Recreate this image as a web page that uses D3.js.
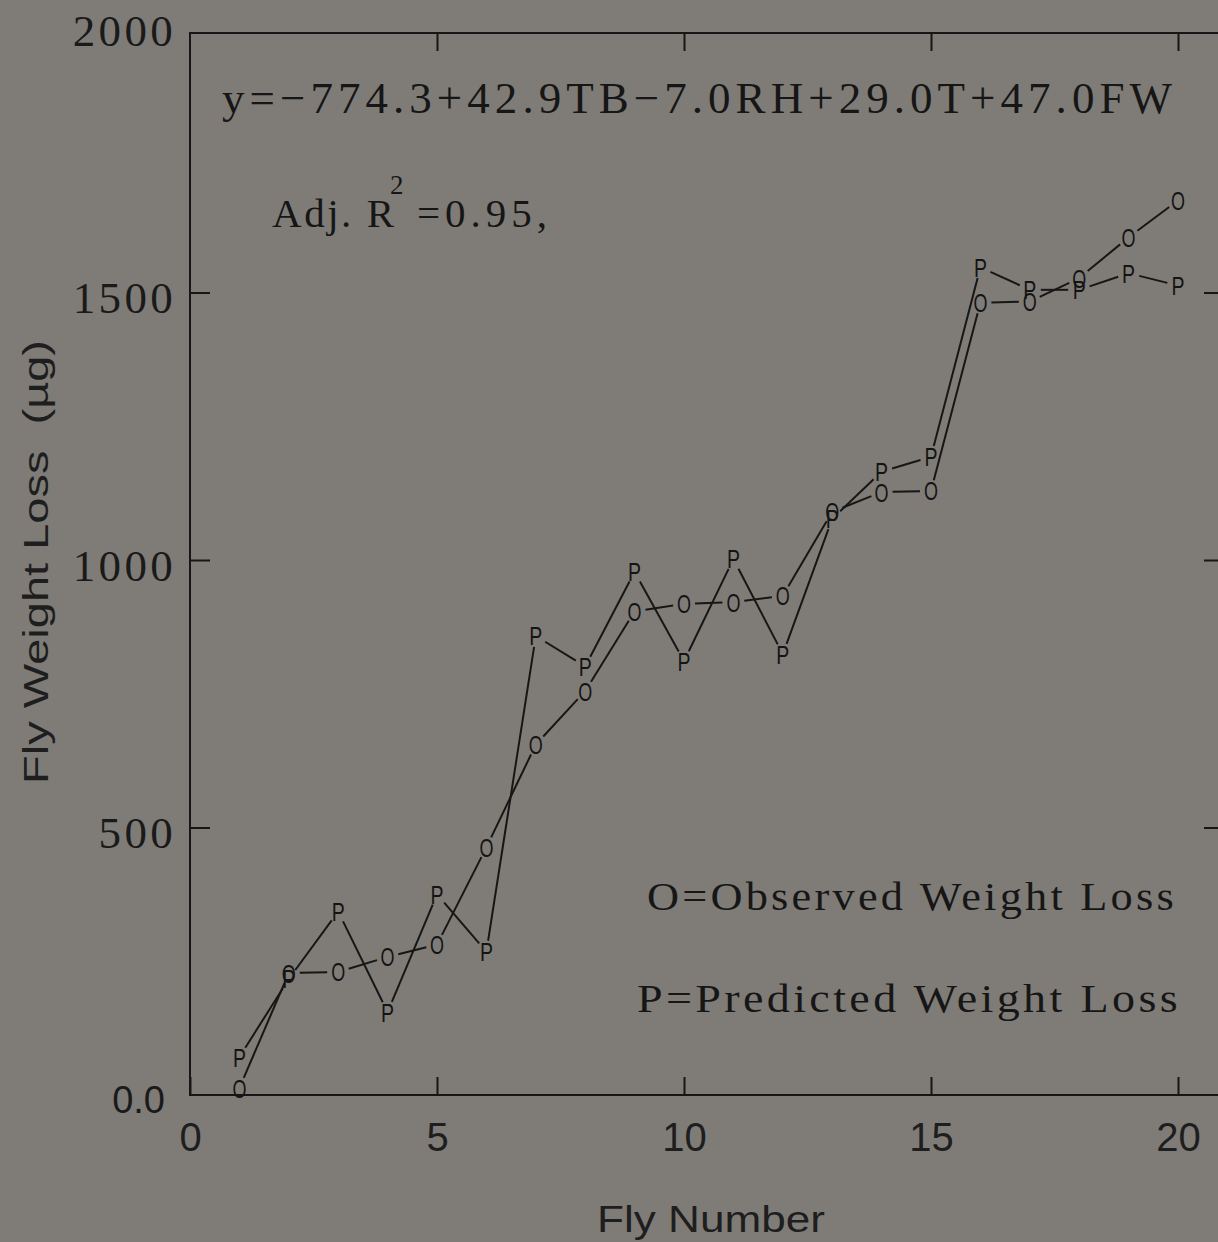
<!DOCTYPE html>
<html>
<head>
<meta charset="utf-8">
<script src="https://cdn.jsdelivr.net/npm/d3@7"></script>
<style>
  html, body { margin: 0; padding: 0; background: #7f7c77; }
  svg { display: block; }
</style>
</head>
<body>
<svg id="chart" width="1218" height="1242"></svg>
<script>
// ---- data ----
const flyNumbers = [1,2,3,4,5,6,7,8,9,10,11,12,13,14,15,16,17,18,19,20];
const observed  = [13, 228, 230, 258, 281, 463, 655, 755, 904, 918, 921, 933, 1090, 1127, 1129, 1481, 1483, 1527, 1603, 1672];
const predicted = [71, 217, 343, 155, 375, 268, 858, 801, 978, 811, 1002, 824, 1077, 1165, 1193, 1547, 1505, 1505, 1536, 1513];
const xTicks = [0, 5, 10, 15, 20];
const xTickLabels = ["0", "5", "10", "15", "20"];
const yTicks = [0, 500, 1000, 1500, 2000];
const yTickLabels = ["0.0", "500", "1000", "1500", "2000"];
const equationText = "y=\u2212774.3+42.9TB\u22127.0RH+29.0T+47.0FW";
const legendObserved = "O=Observed Weight Loss";
const legendPredicted = "P=Predicted Weight Loss";
const xTitle = "Fly Number";
const yTitle = "Fly Weight Loss  (\u00b5g)";

// ---- layout ----
const svg = d3.select("#chart");
const ink = "#161616";
const frameTop = 33, frameRight = 1224;
const x = d3.scaleLinear().domain([0, 20]).range([190, 1178]);
const y = d3.scaleLinear().domain([0, 2000]).range([1095, 25]);

svg.append("rect").attr("width", 1218).attr("height", 1242).attr("fill", "#7f7c77");

// frame
svg.append("path")
  .attr("d", `M${x(0)},${frameTop}H${frameRight}V${y(0)}H${x(0)}Z`)
  .attr("fill", "none").attr("stroke", ink).attr("stroke-width", 2);

// bottom axis
const gx = svg.append("g").attr("transform", `translate(0,${y(0)})`)
  .call(d3.axisBottom(x).tickValues(xTicks).tickFormat((d, i) => xTickLabels[i])
    .tickSizeInner(-18).tickSizeOuter(0).tickPadding(28));
gx.select(".domain").remove();
gx.selectAll(".tick line").attr("stroke", ink).attr("stroke-width", 2);
gx.selectAll(".tick text").attr("fill", "#1e1e1e")
  .style("font-family", "'Liberation Sans', Arial, sans-serif").style("font-size", "40px");

// top axis (ticks only)
const gt = svg.append("g").attr("transform", `translate(0,${frameTop})`)
  .call(d3.axisTop(x).tickValues(xTicks.slice(1)).tickFormat("").tickSizeInner(-18).tickSizeOuter(0));
gt.select(".domain").remove();
gt.selectAll(".tick line").attr("stroke", ink).attr("stroke-width", 2);

// left axis
const gy = svg.append("g").attr("transform", `translate(${x(0)},0)`)
  .call(d3.axisLeft(y).tickValues(yTicks).tickFormat((d, i) => yTickLabels[i])
    .tickSizeInner(-20).tickSizeOuter(0).tickPadding(16));
gy.select(".domain").remove();
gy.selectAll(".tick line").attr("stroke", ink).attr("stroke-width", 2)
  .attr("display", d => (d === 0 || d === 2000) ? "none" : null);
gy.selectAll(".tick text").attr("fill", "#1a1a1a")
  .attr("dy", "0.45em")
  .style("font-family", d => d === 0 ? "'Liberation Sans', Arial, sans-serif" : "'Liberation Serif', 'Times New Roman', serif")
  .style("font-size", d => d === 0 ? "38px" : "45px")
  .style("letter-spacing", d => d === 0 ? "0px" : "3.3px")
  .attr("x", d => d === 0 ? -25 : -14);

// right axis (ticks only)
const gr = svg.append("g").attr("transform", `translate(${frameRight},0)`)
  .call(d3.axisRight(y).tickValues(yTicks.slice(1, 4)).tickFormat("").tickSizeInner(-20).tickSizeOuter(0));
gr.select(".domain").remove();
gr.selectAll(".tick line").attr("stroke", ink).attr("stroke-width", 2);

// axis titles
svg.append("text").text(xTitle)
  .attr("x", 597).attr("y", 1232).attr("textLength", 228).attr("lengthAdjust", "spacingAndGlyphs")
  .attr("fill", "#1e1e1e").style("font-family", "'Liberation Sans', Arial, sans-serif").style("font-size", "36px");
svg.append("text").text(yTitle)
  .attr("xml:space", "preserve")
  .attr("transform", "translate(48,784) rotate(-90)")
  .attr("textLength", 444).attr("lengthAdjust", "spacingAndGlyphs")
  .attr("fill", "#1e1e1e").style("font-family", "'Liberation Sans', Arial, sans-serif").style("font-size", "35px");

// equation & R^2
const serif = "'Liberation Serif', 'Times New Roman', serif";
svg.append("text").text(equationText)
  .attr("x", 222).attr("y", 113).attr("textLength", 950).attr("lengthAdjust", "spacing")
  .attr("fill", "#161616").style("font-family", serif).style("font-size", "45px");
svg.append("text").text("Adj. R")
  .attr("x", 272).attr("y", 227).attr("textLength", 122).attr("lengthAdjust", "spacing")
  .attr("fill", "#161616").style("font-family", serif).style("font-size", "41px");
svg.append("text").text("2")
  .attr("x", 390).attr("y", 194).attr("fill", "#161616").style("font-family", serif).style("font-size", "27px");
svg.append("text").text("=0.95,")
  .attr("x", 417).attr("y", 227).attr("textLength", 130).attr("lengthAdjust", "spacing")
  .attr("fill", "#161616").style("font-family", serif).style("font-size", "41px");

// legend text
svg.append("text").text(legendObserved)
  .attr("x", 647).attr("y", 910).attr("textLength", 530).attr("lengthAdjust", "spacingAndGlyphs")
  .attr("fill", "#161616").style("font-family", serif).style("font-size", "41px").style("letter-spacing", "3px");
svg.append("text").text(legendPredicted)
  .attr("x", 637).attr("y", 1012).attr("textLength", 544).attr("lengthAdjust", "spacingAndGlyphs")
  .attr("fill", "#161616").style("font-family", serif).style("font-size", "41px").style("letter-spacing", "3px");

// series
function drawSeries(values, letter, width) {
  const pts = values.map((v, i) => [x(flyNumbers[i]), y(v)]);
  const segs = d3.pairs(pts);
  const r = 11;
  svg.append("g").selectAll("line").data(segs).join("line")
    .each(function ([a, b]) {
      const dx = b[0] - a[0], dy = b[1] - a[1];
      const len = Math.hypot(dx, dy);
      const ux = dx / len, uy = dy / len;
      d3.select(this)
        .attr("x1", a[0] + ux * r).attr("y1", a[1] + uy * r)
        .attr("x2", b[0] - ux * r).attr("y2", b[1] - uy * r);
    })
    .attr("stroke", ink).attr("stroke-width", 2);
  svg.append("g").selectAll("text").data(pts).join("text")
    .text(letter)
    .attr("x", d => d[0] - width / 2).attr("y", d => d[1] + 9.5)
    .attr("textLength", width).attr("lengthAdjust", "spacingAndGlyphs")
    .attr("fill", "#141414")
    .style("font-family", "'Liberation Sans', Arial, sans-serif").style("font-size", "26px");
}
drawSeries(observed, "O", 14);
drawSeries(predicted, "P", 13);
</script>
</body>
</html>
